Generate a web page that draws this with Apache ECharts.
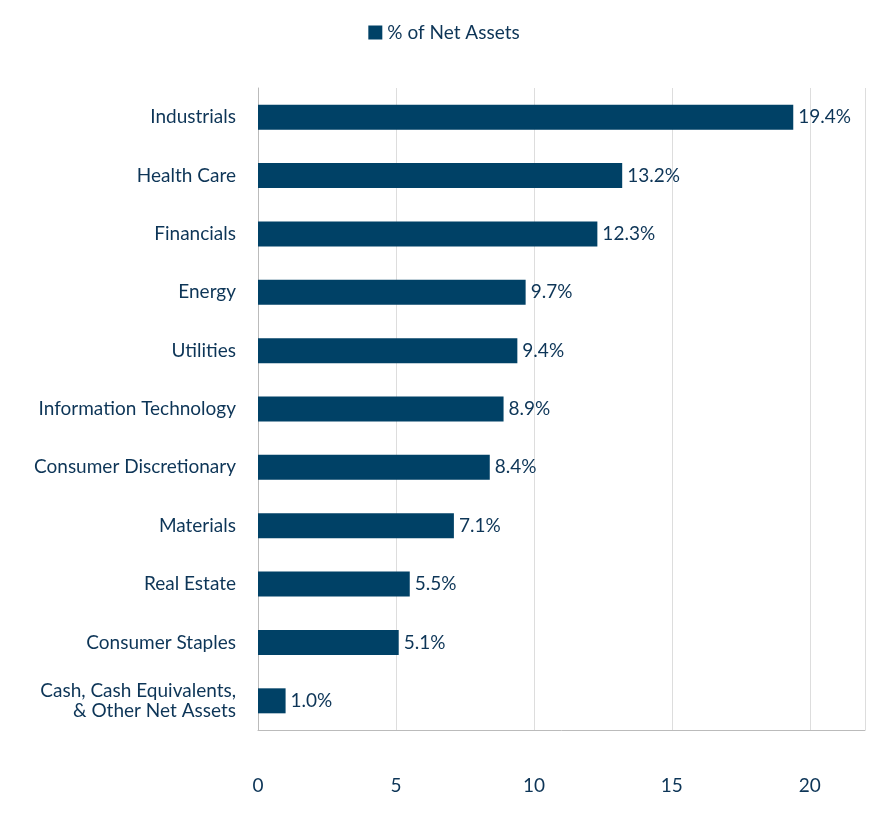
<!DOCTYPE html>
<html>
<head>
<meta charset="utf-8">
<script src="https://cdn.jsdelivr.net/npm/echarts@6/dist/echarts.min.js"></script>
<style>html,body{margin:0;padding:0;background:#fff}#main{width:888px;height:816px}</style>
</head>
<body>
<div id="main"></div>
<script>
let categories = ['Industrials', 'Health Care', 'Financials', 'Energy', 'Utilities',
    'Information Technology', 'Consumer Discretionary', 'Materials', 'Real Estate',
    'Consumer Staples', 'Cash, Cash Equivalents,\n& Other Net Assets'];
let values = [19.4, 13.2, 12.3, 9.7, 9.4, 8.9, 8.4, 7.1, 5.5, 5.1, 1.0];
let seriesName = '% of Net Assets';
let textColor = '#0d3557';

const option = {
    textStyle: { fontFamily: 'Lato', color: textColor },
    legend: {
        top: 18,
        left: 'center',
        icon: 'rect',
        itemWidth: 14,
        itemHeight: 14,
        itemGap: 12,
        textStyle: { fontSize: 19, color: textColor, fontFamily: 'Lato' },
        data: [seriesName]
    },
    grid: { left: 258, right: 23, top: 88, bottom: 86, containLabel: false },
    xAxis: {
        type: 'value',
        min: 0,
        max: 22,
        interval: 5,
        axisLine: { show: true, lineStyle: { color: '#bbbbbb' } },
        axisTick: { show: false },
        splitLine: { lineStyle: { color: '#dddddd' } },
        axisLabel: { fontSize: 19, color: textColor, margin: 46, showMaxLabel: false }
    },
    yAxis: {
        type: 'category',
        inverse: true,
        data: categories,
        axisLine: { show: true, lineStyle: { color: '#bbbbbb' } },
        axisTick: { show: false },
        axisLabel: { fontSize: 19, color: textColor, margin: 22, lineHeight: 20, align: 'right' }
    },
    series: [{
        name: seriesName,
        type: 'bar',
        data: values,
        barWidth: 25,
        itemStyle: { color: '#004166' },
        label: {
            show: true,
            position: 'right',
            distance: 5,
            fontSize: 19,
            color: textColor,
            formatter: p => p.value.toFixed(1) + '%'
        }
    }]
};

let plot = echarts.init(document.querySelector('#main'));
plot.setOption(option);
</script>
</body>
</html>
